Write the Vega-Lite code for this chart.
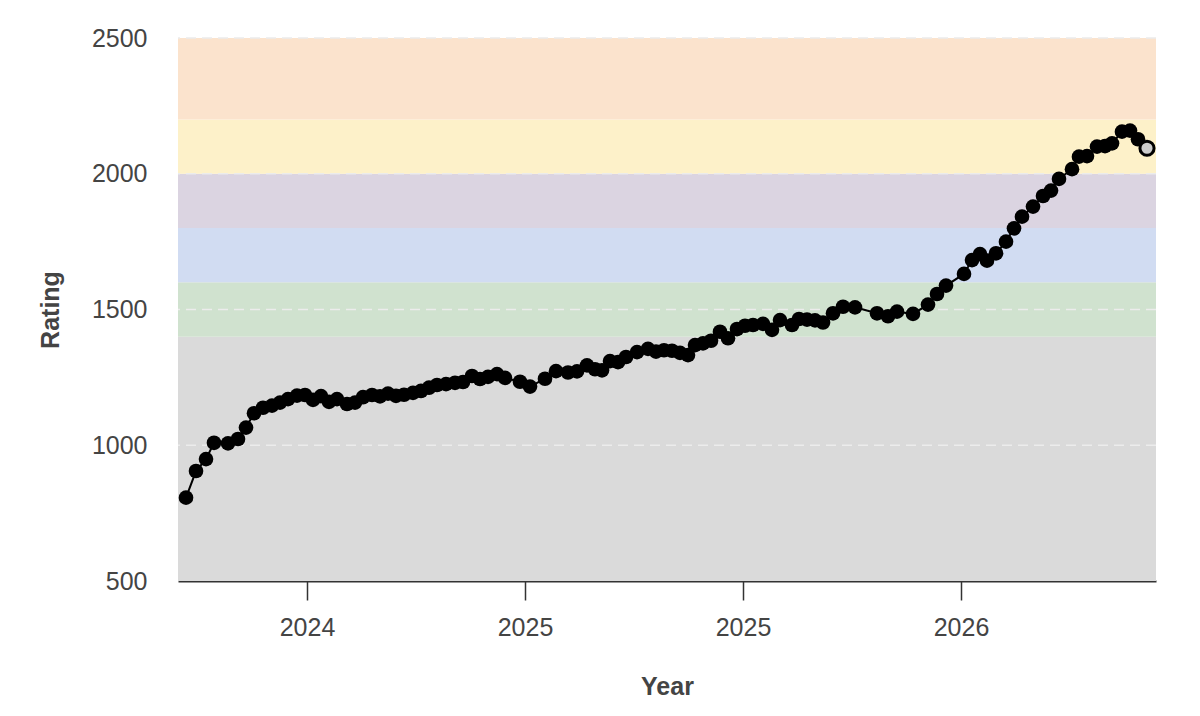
{
  "$schema": "https://vega.github.io/schema/vega-lite/v6.json",
  "width": 978,
  "height": 543,
  "autosize": {"type": "none"},
  "padding": {"left": 178, "top": 38, "right": 44, "bottom": 135},
  "background": "white",
  "config": {
    "font": "Liberation Sans",
    "view": {"stroke": null}
  },
  "datasets": {
    "bands": [
      {"band": "gray", "lo": 500, "hi": 1400},
      {"band": "green", "lo": 1400, "hi": 1600},
      {"band": "blue", "lo": 1600, "hi": 1800},
      {"band": "purple", "lo": 1800, "hi": 2000},
      {"band": "yellow", "lo": 2000, "hi": 2200},
      {"band": "orange", "lo": 2200, "hi": 2500}
    ],
    "grid": [
      {"v": 1000}, {"v": 1500}, {"v": 2000}, {"v": 2500}
    ],
    "ratings": [
      {"date": "2024-02-01", "rating": 807},
      {"date": "2024-02-11", "rating": 905},
      {"date": "2024-02-21", "rating": 949},
      {"date": "2024-02-29", "rating": 1009},
      {"date": "2024-03-14", "rating": 1007},
      {"date": "2024-03-24", "rating": 1023},
      {"date": "2024-04-01", "rating": 1065},
      {"date": "2024-04-09", "rating": 1118},
      {"date": "2024-04-18", "rating": 1138},
      {"date": "2024-04-27", "rating": 1146},
      {"date": "2024-05-05", "rating": 1157},
      {"date": "2024-05-13", "rating": 1170},
      {"date": "2024-05-22", "rating": 1183},
      {"date": "2024-05-30", "rating": 1185},
      {"date": "2024-06-07", "rating": 1167},
      {"date": "2024-06-15", "rating": 1181},
      {"date": "2024-06-23", "rating": 1160},
      {"date": "2024-07-01", "rating": 1170},
      {"date": "2024-07-11", "rating": 1152},
      {"date": "2024-07-19", "rating": 1157},
      {"date": "2024-07-27", "rating": 1177},
      {"date": "2024-08-05", "rating": 1185},
      {"date": "2024-08-13", "rating": 1180},
      {"date": "2024-08-21", "rating": 1190},
      {"date": "2024-08-29", "rating": 1182},
      {"date": "2024-09-06", "rating": 1186},
      {"date": "2024-09-15", "rating": 1193},
      {"date": "2024-09-23", "rating": 1200},
      {"date": "2024-10-01", "rating": 1212},
      {"date": "2024-10-09", "rating": 1222},
      {"date": "2024-10-18", "rating": 1225},
      {"date": "2024-10-27", "rating": 1230},
      {"date": "2024-11-04", "rating": 1233},
      {"date": "2024-11-13", "rating": 1255},
      {"date": "2024-11-21", "rating": 1244},
      {"date": "2024-11-29", "rating": 1252},
      {"date": "2024-12-08", "rating": 1262},
      {"date": "2024-12-16", "rating": 1248},
      {"date": "2024-12-31", "rating": 1234},
      {"date": "2025-01-10", "rating": 1216},
      {"date": "2025-01-25", "rating": 1245},
      {"date": "2025-02-05", "rating": 1273},
      {"date": "2025-02-17", "rating": 1268},
      {"date": "2025-02-26", "rating": 1272},
      {"date": "2025-03-08", "rating": 1294},
      {"date": "2025-03-16", "rating": 1280},
      {"date": "2025-03-23", "rating": 1276},
      {"date": "2025-03-31", "rating": 1310},
      {"date": "2025-04-08", "rating": 1306},
      {"date": "2025-04-16", "rating": 1325},
      {"date": "2025-04-27", "rating": 1343},
      {"date": "2025-05-08", "rating": 1355},
      {"date": "2025-05-16", "rating": 1345},
      {"date": "2025-05-24", "rating": 1350},
      {"date": "2025-06-01", "rating": 1348},
      {"date": "2025-06-09", "rating": 1340},
      {"date": "2025-06-17", "rating": 1332},
      {"date": "2025-06-24", "rating": 1369},
      {"date": "2025-07-02", "rating": 1375},
      {"date": "2025-07-10", "rating": 1385},
      {"date": "2025-07-19", "rating": 1418},
      {"date": "2025-07-27", "rating": 1394},
      {"date": "2025-08-05", "rating": 1428},
      {"date": "2025-08-13", "rating": 1440},
      {"date": "2025-08-21", "rating": 1443},
      {"date": "2025-08-31", "rating": 1447},
      {"date": "2025-09-09", "rating": 1425},
      {"date": "2025-09-17", "rating": 1461},
      {"date": "2025-09-29", "rating": 1443},
      {"date": "2025-10-06", "rating": 1465},
      {"date": "2025-10-14", "rating": 1463},
      {"date": "2025-10-22", "rating": 1460},
      {"date": "2025-10-30", "rating": 1452},
      {"date": "2025-11-09", "rating": 1486},
      {"date": "2025-11-19", "rating": 1510},
      {"date": "2025-12-01", "rating": 1508},
      {"date": "2025-12-23", "rating": 1486},
      {"date": "2026-01-03", "rating": 1475},
      {"date": "2026-01-12", "rating": 1492},
      {"date": "2026-01-28", "rating": 1484},
      {"date": "2026-02-12", "rating": 1518},
      {"date": "2026-02-21", "rating": 1557},
      {"date": "2026-03-02", "rating": 1588},
      {"date": "2026-03-20", "rating": 1631},
      {"date": "2026-03-28", "rating": 1682},
      {"date": "2026-04-05", "rating": 1704},
      {"date": "2026-04-12", "rating": 1680},
      {"date": "2026-04-21", "rating": 1707},
      {"date": "2026-05-01", "rating": 1750},
      {"date": "2026-05-09", "rating": 1799},
      {"date": "2026-05-17", "rating": 1842},
      {"date": "2026-05-28", "rating": 1879},
      {"date": "2026-06-07", "rating": 1918},
      {"date": "2026-06-15", "rating": 1938},
      {"date": "2026-06-23", "rating": 1981},
      {"date": "2026-07-06", "rating": 2017},
      {"date": "2026-07-13", "rating": 2063},
      {"date": "2026-07-21", "rating": 2065},
      {"date": "2026-07-31", "rating": 2100},
      {"date": "2026-08-08", "rating": 2102},
      {"date": "2026-08-15", "rating": 2112},
      {"date": "2026-08-25", "rating": 2155},
      {"date": "2026-09-02", "rating": 2159},
      {"date": "2026-09-10", "rating": 2127},
      {"date": "2026-09-19", "rating": 2094}
    ]
  },
  "encoding": {
    "y": {
      "type": "quantitative",
      "scale": {"domain": [500, 2500], "nice": false, "zero": false},
      "axis": {
        "title": "Rating",
        "values": [500, 1000, 1500, 2000, 2500],
        "format": "d",
        "grid": false,
        "ticks": false,
        "domain": false,
        "labelFont": "Liberation Sans",
        "labelFontSize": 25,
        "labelColor": "#444444",
        "labelPadding": 31,
        "titleFont": "Liberation Sans",
        "titleFontSize": 25,
        "titleFontWeight": "bold",
        "titleColor": "#444444",
        "titlePadding": 28
      }
    }
  },
  "layer": [
    {
      "data": {"name": "bands"},
      "mark": {"type": "rect"},
      "encoding": {
        "y": {"field": "lo", "type": "quantitative"},
        "y2": {"field": "hi"},
        "color": {
          "field": "band",
          "type": "nominal",
          "legend": null,
          "scale": {
            "domain": ["gray", "green", "blue", "purple", "yellow", "orange"],
            "range": ["#dadada", "#d0e2cf", "#d1dcf2", "#dbd4e1", "#fdf1c9", "#fbe3cd"]
          }
        }
      }
    },
    {
      "data": {"name": "grid"},
      "mark": {"type": "rule", "color": "#ececec", "strokeWidth": 1.5, "strokeDash": [10, 6]},
      "encoding": {
        "y": {"field": "v", "type": "quantitative"}
      }
    },
    {
      "data": {"name": "ratings"},
      "encoding": {
        "x": {
          "field": "date",
          "type": "temporal",
          "scale": {
            "type": "utc",
            "domain": [
              {"year": 2024, "month": 1, "date": 24, "utc": true},
              {"year": 2026, "month": 9, "date": 28, "utc": true}
            ],
            "nice": false
          },
          "axis": {
            "title": "Year",
            "values": [
              {"year": 2024, "month": 6, "date": 1, "utc": true},
              {"year": 2025, "month": 1, "date": 5, "utc": true},
              {"year": 2025, "month": 8, "date": 11, "utc": true},
              {"year": 2026, "month": 3, "date": 17, "utc": true}
            ],
            "format": "%Y",
            "grid": false,
            "domainColor": "#333333",
            "domainWidth": 2,
            "tickColor": "#333333",
            "tickWidth": 1.5,
            "tickSize": 19,
            "labelFont": "Liberation Sans",
            "labelFontSize": 25,
            "labelColor": "#444444",
            "labelPadding": 15,
            "titleFont": "Liberation Sans",
            "titleFontSize": 25,
            "titleFontWeight": "bold",
            "titleColor": "#444444",
            "titlePadding": 34
          }
        },
        "y": {"field": "rating", "type": "quantitative"}
      },
      "layer": [
        {"mark": {"type": "line", "color": "black", "strokeWidth": 2}},
        {"mark": {"type": "circle", "color": "black", "size": 215, "opacity": 1}},
        {
          "transform": [
            {"window": [{"op": "rank", "as": "r"}], "sort": [{"field": "date", "order": "descending"}]},
            {"filter": "datum.r == 1"}
          ],
          "mark": {"type": "circle", "fill": "#cccccc", "stroke": "black", "strokeWidth": 3, "size": 200, "opacity": 1}
        }
      ]
    }
  ]
}
